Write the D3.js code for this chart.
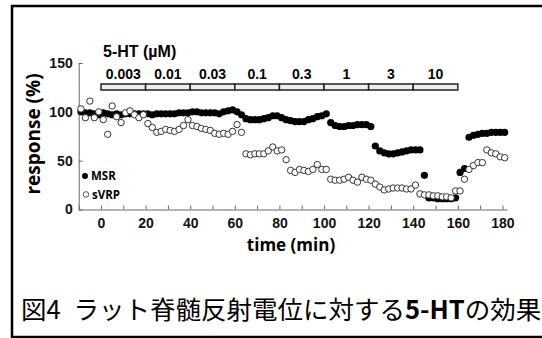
<!DOCTYPE html>
<html>
<head>
<meta charset="utf-8">
<script src="https://cdn.jsdelivr.net/npm/d3@7/dist/d3.min.js"></script>
<style>
  body { margin: 0; background: #fff; }
  svg { display: block; }
</style>
</head>
<body>
<div id="chart"></div>
<script>
// sampling times (min), one sweep every 2 min
const times = [-9, -7, -5, -3, -1, 1, 3, 5, 7, 9, 11, 13, 15, 17, 19, 21, 23, 25, 27, 29,
  31, 33, 35, 37, 39, 41, 43, 45, 47, 49, 51, 53, 55, 57, 59, 61, 63, 65, 67, 69,
  71, 73, 75, 77, 79, 81, 83, 85, 87, 89, 91, 93, 95, 97, 99, 101, 103, 105, 107, 109,
  111, 113, 115, 117, 119, 121, 123, 125, 127, 129, 131, 133, 135, 137, 139, 141, 143, 145, 147, 149,
  151, 153, 155, 157, 159, 161, 163, 165, 167, 169, 171, 173, 175, 177, 179, 181];

const msr = [100, 99, 99, 98, 97, 99, 98, 97, 98, 97, 98, 98, 98, 98, 98, 98, 97, 98, 98, 98,
  98, 98, 99, 99, 99, 100, 100, 99, 99, 99, 99, 98, 100, 101, 102, 100, 97, 93, 92, 92,
  92, 93, 94, 96, 96, 94, 92, 91, 90, 90, 90, 92, 93, 95, 96, 98, 89, 86, 85, 85,
  86, 86, 87, 87, 87, 85, 65, 60, 58, 57, 57, 58, 59, 60, 61, 61, 61, 35, 12, 12,
  11, 11, 11, 11, 12, 38, 42, 74, 76, 77, 78, 78, 79, 79, 79, 79];

const svrp = [103, 94, 111, 94, 100, 92, 77, 106, 95, 89, 99, 101, 97, 94, 97, 88, 84, 79, 80, 82,
  81, 80, 82, 86, 92, 86, 85, 83, 82, 81, 78, 77, 78, 77, 80, 87, 79, 57, 56, 57,
  57, 57, 60, 64, 60, 61, 51, 40, 38, 41, 40, 39, 41, 46, 41, 41, 31, 30, 30, 31,
  33, 30, 28, 33, 31, 30, 26, 23, 20, 21, 22, 22, 22, 21, 21, 25, 16, 15, 15, 14,
  14, 13, 13, 12, 19, 19, 31, 41, 45, 48, 48, 61, 58, 57, 54, 53];

// 5-HT concentrations (µM) and application windows (min)
const doses = ["0.003", "0.01", "0.03", "0.1", "0.3", "1", "3", "10"];
const doseStart = [0, 20, 40, 60, 80, 100, 120, 140];
const doseEnd = [20, 40, 60, 80, 100, 120, 140, 160];

const xTickLabels = [0, 20, 40, 60, 80, 100, 120, 140, 160, 180];
const xMinorTicks = [-10, 10, 30, 50, 70, 90, 110, 130, 150, 170];
const yTickLabels = [0, 50, 100, 150];

const w = 542;
const h = 338;

const xScale = d3.scaleLinear().domain([-10, 182]).range([78.7, 506.9]);
const yScale = d3.scaleLinear().domain([0, 150]).range([209.5, 63]);

const svg = d3.select("#chart").append("svg")
  .attr("width", w)
  .attr("height", h);

// outer frame
svg.append("rect")
  .attr("x", 12).attr("y", 6)
  .attr("width", 600).attr("height", 331)
  .attr("fill", "none")
  .attr("stroke", "#000")
  .attr("stroke-width", 2.5);

// axes
svg.append("g")
  .attr("transform", `translate(0, ${yScale(0)})`)
  .call(d3.axisBottom(xScale).tickValues(xTickLabels).tickSize(-4).tickSizeOuter(0).tickPadding(9));

svg.append("g")
  .attr("transform", `translate(0, ${yScale(0)})`)
  .call(d3.axisBottom(xScale).tickValues(xMinorTicks).tickSize(-4).tickSizeOuter(0).tickFormat(""))
  .select(".domain").remove();

svg.append("g")
  .attr("transform", `translate(${xScale(-10)}, 0)`)
  .call(d3.axisLeft(yScale).tickValues(yTickLabels).tickSize(-4).tickSizeOuter(0).tickPadding(6));

svg.selectAll(".domain, .tick line").attr("stroke", "#666").attr("stroke-width", 1);
svg.selectAll(".tick text")
  .attr("fill", "#111")
  .style("font-family", "'Liberation Sans', Arial, sans-serif")
  .style("font-weight", "bold")
  .style("font-size", "14px");

// axis titles
svg.append("text")
  .attr("x", 291).attr("y", 251)
  .attr("text-anchor", "middle")
  .style("font-family", "'Open Sans', sans-serif")
  .style("font-weight", "bold")
  .style("font-size", "17px")
  .text("time (min)");

svg.append("text")
  .attr("transform", "translate(40, 134) rotate(-90)")
  .attr("text-anchor", "middle")
  .style("font-family", "'Open Sans', sans-serif")
  .style("font-weight", "bold")
  .style("font-size", "19px")
  .text("response (%)");

// drug application bar
svg.append("text")
  .attr("x", 103).attr("y", 57)
  .style("font-family", "'Liberation Sans', Arial, sans-serif")
  .style("font-weight", "bold")
  .style("font-size", "16px")
  .text("5-HT (µM)");

svg.selectAll("rect.dose")
  .data(doses)
  .enter()
  .append("rect")
  .attr("class", "dose")
  .attr("x", (d, i) => xScale(doseStart[i]))
  .attr("y", 84)
  .attr("width", (d, i) => xScale(doseEnd[i]) - xScale(doseStart[i]))
  .attr("height", 6)
  .attr("fill", "#eee")
  .attr("stroke", "#222")
  .attr("stroke-width", 1.5);

svg.selectAll("text.dose")
  .data(doses)
  .enter()
  .append("text")
  .attr("class", "dose")
  .attr("x", (d, i) => (xScale(doseStart[i]) + xScale(doseEnd[i])) / 2)
  .attr("y", 79)
  .attr("text-anchor", "middle")
  .style("font-family", "'Liberation Sans', Arial, sans-serif")
  .style("font-weight", "bold")
  .style("font-size", "14px")
  .text(d => d);

// data points: MSR filled, sVRP open on top
svg.append("g").selectAll("circle")
  .data(times)
  .enter()
  .append("circle")
  .attr("cx", d => xScale(d))
  .attr("cy", (d, i) => yScale(msr[i]))
  .attr("r", 3.6)
  .attr("fill", "#000");

svg.append("g").selectAll("circle")
  .data(times)
  .enter()
  .append("circle")
  .attr("cx", d => xScale(d))
  .attr("cy", (d, i) => yScale(svrp[i]))
  .attr("r", 3.2)
  .attr("fill", "#fff")
  .attr("stroke", "#333")
  .attr("stroke-width", 1);

// legend
svg.append("circle").attr("cx", 85).attr("cy", 176).attr("r", 3).attr("fill", "#000");
svg.append("circle").attr("cx", 86).attr("cy", 194.5).attr("r", 2.8)
  .attr("fill", "#fff").attr("stroke", "#555").attr("stroke-width", 1);

svg.append("text")
  .attr("x", 91).attr("y", 180)
  .style("font-family", "'Open Sans', sans-serif")
  .style("font-weight", "bold")
  .style("font-size", "11.5px")
  .text("MSR");

svg.append("text")
  .attr("x", 92).attr("y", 198.5)
  .style("font-family", "'Open Sans', sans-serif")
  .style("font-weight", "bold")
  .style("font-size", "11.5px")
  .text("sVRP");

// caption
const caption = svg.append("text")
  .attr("x", 21).attr("y", 319)
  .style("font-family", "'Noto Sans CJK JP', sans-serif")
  .style("font-size", "25.5px");
caption.append("tspan").text("図4\u2002ラット脊髄反射電位に対する");
caption.append("tspan").style("font-weight", "bold").text("5-HT");
caption.append("tspan").text("の効果");
</script>
</body>
</html>
